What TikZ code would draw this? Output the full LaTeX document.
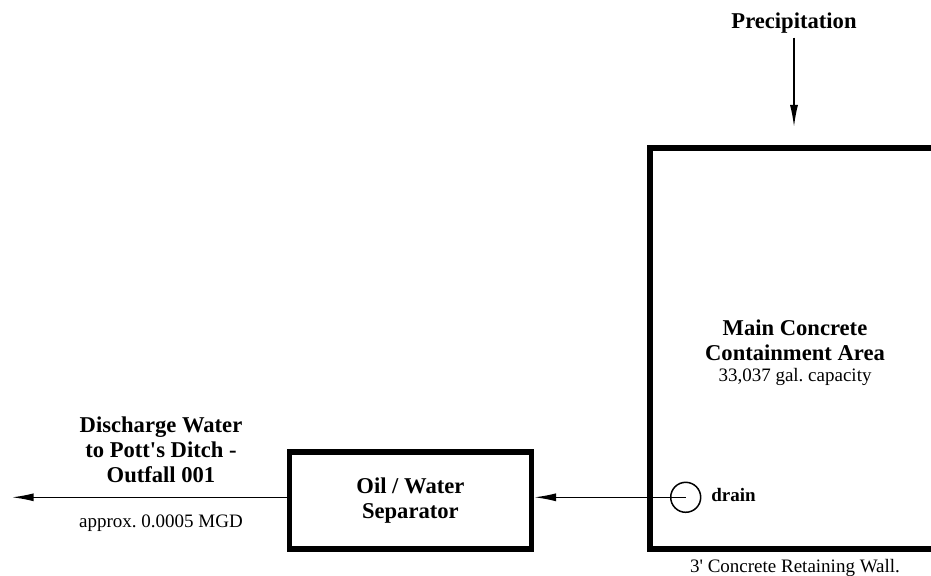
\documentclass[tikz,border=0pt]{standalone}
\usepackage{fontspec}
\setmainfont{Liberation Serif}
\usetikzlibrary{arrows.meta}
\usetikzlibrary{positioning}
\newcommand{\bigtxt}{\fontsize{11.3}{12.5}\selectfont\bfseries}
\newcommand{\smalltxt}{\fontsize{9.5}{11}\selectfont}
\tikzset{
wall/.style={line width=3pt, line join=miter},
unit/.style={
  draw,
  line width=2.75pt,
  minimum width=120.9pt,
  minimum height=48.5pt,
  align=center,
  font=\bigtxt
},
flow/.style={line width=0.75pt, -{Latex[length=11pt,width=4pt]}},
title/.style={align=center, font=\bigtxt, inner sep=0pt},
note/.style={font=\smalltxt, inner sep=0pt},
}

\begin{document}
\begin{tikzpicture}[x=0.5pt, y=-0.5pt]
\useasboundingbox (0,0) rectangle (931,576);
\clip (0,0) rectangle (931,576);
% the containment wall
\draw[wall] (945,148) -- (649.7,148) -- (649.7,549) -- (945,549);
\node[title] (area) at (795,340) {Main Concrete\\Containment Area};
\node[note] (cap) at (795,377) {33,037 gal.\ capacity};
\node[note] (wall) at (795,568) {3\textquotesingle{} Concrete Retaining Wall.};
% inflow
\node[title] (precip) at (794,23) {Precipitation};
\coordinate (rain) at (794,127);
% drain and separator
\node[draw, circle, line width=0.75pt, minimum size=15pt, inner sep=0pt] (drain) at (685.7,497.3) {};
\node[title, font=\fontsize{9.5}{11}\selectfont\bfseries, anchor=west] (drainlbl) at (711,495) {drain};
\node[unit] (sep) at (410.4,500.5) {Oil / Water\\Separator};
% outflow
\coordinate (outlet) at (11.7,497.3);
\node[title] (dis) at (161,450) {Discharge Water\\to Pott\textquotesingle s Ditch -\\Outfall 001};
\node[note] (rate) at (161,523) {approx.\ 0.0005 MGD};
% the arrows
\draw[flow] ([yshift=-2pt]precip.south) -- (rain);
\draw[flow] (drain.center) -- (drain.center -| sep.east);
\draw[flow] (outlet -| sep.west) -- (outlet);
\end{tikzpicture}
\end{document}
